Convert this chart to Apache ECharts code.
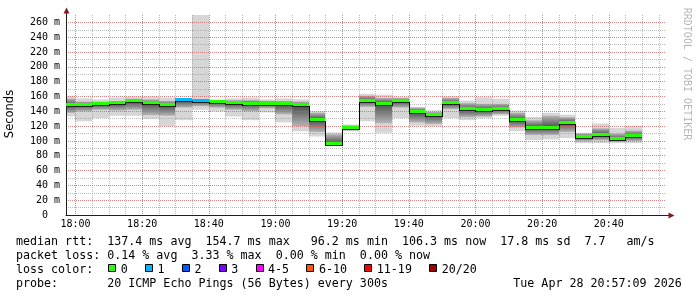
<!DOCTYPE html>
<html><head><meta charset="utf-8">
<script src="https://cdn.jsdelivr.net/npm/echarts@6/dist/echarts.min.js"></script>
<style>html,body{margin:0;padding:0;background:#fff}#c{width:697px;height:297px}</style>
</head><body><div id="c"></div>
<script>
// ---- data ----
const rangeStart = '17:57:09';
const rangeEnd = '20:57:09';
const stepMinutes = 5;
const stepEnd = ['18:00','18:05','18:10','18:15','18:20','18:25','18:30','18:35','18:40','18:45',
  '18:50','18:55','19:00','19:05','19:10','19:15','19:20','19:25','19:30','19:35',
  '19:40','19:45','19:50','19:55','20:00','20:05','20:10','20:15','20:20','20:25',
  '20:30','20:35','20:40','20:45','20:50'];
const median = [148,149,150,151,153.5,151,148.5,154.7,154.5,152,
  151,150.5,150.5,149.5,148,128.5,96.2,118,154.2,150.5,
  153.8,138.5,134.5,151,142.5,141.5,143,128,118,118,
  124.5,105.5,108.5,102,106.3];
const pingMin = [133,126.5,131,134,134,130,120,128,142,140,
  133,128,138.5,125,113,106,95,113,126.5,111,
  131,120.5,120,131,128,131,134,113,101,102,
  104,97,97,97,97];
const pingLowDense = [138,140,142,141,142,135,134,145,147,145,
  142,140,144,136,120,112,98,114,146,124,
  145,125,123,143,132,133,136,118,108,108,
  112,100,101,99,100];
const pingHighDense = [157,153,153,154,157,156,154,156,156,155,
  155,155,154,154,153,138,109,121,161,158,
  158,145,139,158,151,150,150,138,128,134,
  132,110,117,110,114];
const pingMax = [161,157.5,156,158.5,160,160,158.5,157.5,272,156,
  157.5,158.5,156,157.5,156,140,111.5,122,163.5,162.5,
  159,146,141.5,160,154.5,159,157,141,132.5,138,
  135.5,111,123.5,117.5,120.5];
const lostPings = [0,0,0,0,0,0,0,1,1,0,
  0,0,0,0,0,0,0,0,0,0,
  0,0,0,0,0,0,0,0,0,0,
  0,0,0,0,0];
const lossLabels = ['0','1','2','3','4-5','6-10','11-19','20/20'];
const lossUpper = [0,1,2,3,5,10,19,20];
const lossColors = ['#26ff00','#00b8ff','#0059ff','#7e00ff','#ff00ff','#ff5500','#ff0000','#a10000'];
const rttLine = ['137.4 ms avg','154.7 ms max',' 96.2 ms min','106.3 ms now','17.8 ms sd','7.7   am/s'];
const lossLine = ['0.14 % avg','3.33 % max','0.00 % min','0.00 % now'];
const probeText = '20 ICMP Echo Pings (56 Bytes) every 300s';
const stampText = 'Tue Apr 28 20:57:09 2026';
const yMax = 270;
// ---------------------------------------

const toMin = s => { const p = s.split(':').map(Number); return p[0]*60 + p[1] + (p[2]||0)/60; };
const xMin = toMin(rangeStart), xMax = toMin(rangeEnd);
const pad2 = n => String(n).padStart(2,'0');
const fmtTime = v => { const m = Math.round(v); return pad2(Math.floor(m/60)) + ':' + pad2(m%60); };
const lossColorFor = n => { for (let k=0;k<lossUpper.length;k++) if (n <= lossUpper[k]) return lossColors[k]; return lossColors[lossColors.length-1]; };

const rows = stepEnd.map((t,i) => [toMin(t), pingMin[i], pingLowDense[i], median[i], pingHighDense[i], pingMax[i], lostPings[i]]);

const MONO = 'DejaVu Sans Mono';
const majorGrid = {color:'rgba(222,79,79,0.5)', width:1, type:[1,1], dashOffset:0};
const minorGrid = {color:'rgba(143,143,143,0.6)', width:1, type:[1,1], dashOffset:0};
const axisColor = '#1f1f1f';
const arrowColor = '#801f1f';

function clip(shape, cs) {
  return echarts.graphic.clipRectByRect(shape, {x:cs.x, y:cs.y, width:cs.width, height:cs.height});
}

function smokeItem(params, api) {
  const cs = params.coordSys;
  const t1 = api.value(0), t0 = t1 - stepMinutes;
  const x0 = Math.round(api.coord([t0, 0])[0]);
  const x1 = Math.round(api.coord([t1, 0])[0]);
  const yOf = v => api.coord([t1, v])[1];
  const lo = api.value(1), q1 = api.value(2), med = api.value(3), q3 = api.value(4), hi = api.value(5);
  const band = (a, b, fill) => {
    const yt = yOf(b), yb = yOf(a);
    const s = clip({x:x0, y:yt, width:x1-x0, height:yb-yt}, cs);
    return s ? {type:'rect', shape:s, style:{fill:fill}} : null;
  };
  const dark = '#4c4c4c', light = '#b4b4b4';
  const kids = [
    band(lo, hi, '#d6d6d6'),
    band(q1, med, new echarts.graphic.LinearGradient(0,0,0,1,[{offset:0,color:dark},{offset:1,color:light}])),
    band(med, q3, new echarts.graphic.LinearGradient(0,0,0,1,[{offset:0,color:light},{offset:1,color:dark}]))
  ].filter(Boolean);
  return {type:'group', children:kids};
}

function medianItem(params, api) {
  const cs = params.coordSys;
  const i = params.dataIndex;
  const t1 = api.value(0), t0 = t1 - stepMinutes;
  const x0 = Math.round(api.coord([t0, 0])[0]);
  const x1 = Math.round(api.coord([t1, 0])[0]);
  const yOf = v => Math.round(api.coord([t1, v])[1]);
  const y = yOf(api.value(3));
  const kids = [];
  const b = clip({x:x0, y:y+1, width:x1-x0, height:1}, cs);
  if (b) kids.push({type:'rect', shape:b, style:{fill:'#222'}});
  const g = clip({x:x0, y:y-2, width:x1-x0, height:3}, cs);
  if (g) kids.push({type:'rect', shape:g, style:{fill:lossColorFor(api.value(6))}});
  if (i > 0) {
    const yp = yOf(median[i-1]);
    if (yp !== y) {
      const v = clip({x:x0, y:Math.min(yp, y) + 1, width:1, height:Math.abs(yp - y) + 1}, cs);
      if (v) kids.push({type:'rect', shape:v, style:{fill:'#000'}});
    }
  }
  return {type:'group', children:kids};
}

const charW = 7.02, legendFs = 11.66;
const monoStyle = extra => Object.assign({fontFamily:MONO, fontSize:legendFs, fill:'#000', verticalAlign:'middle', align:'left'}, extra||{});
const rowY = [241.5, 255.6, 269.7, 283.8];
const graphics = [];
graphics.push({type:'text', x:16, y:rowY[0], style:monoStyle({text:'median rtt:  ' + rttLine.slice(0,4).join('  ') + '  ' + rttLine[4] + '  ' + rttLine[5]})});
graphics.push({type:'text', x:16, y:rowY[1], style:monoStyle({text:'packet loss: ' + lossLine.join('  ')})});
graphics.push({type:'text', x:16, y:rowY[2], style:monoStyle({text:'loss color:'})});
let lx = 108.3;
lossLabels.forEach((lab, k) => {
  graphics.push({type:'rect', shape:{x:Math.round(lx)+0.5, y:264.5, width:7, height:7}, style:{fill:lossColors[k], stroke:'#000', lineWidth:1}});
  const tx = lx + 12.5;
  graphics.push({type:'text', x:tx, y:rowY[2], style:monoStyle({text:lab})});
  lx = tx + lab.length*charW + 17.3;
});
graphics.push({type:'text', x:16, y:rowY[3], style:monoStyle({text:'probe:       ' + probeText})});
graphics.push({type:'text', x:513.3, y:rowY[3], style:monoStyle({text:stampText})});
graphics.push({type:'text', x:10, y:114, rotation:Math.PI/2, style:{text:'Seconds', fontFamily:'DejaVu Sans', fontSize:11.5, fill:'#000', align:'center', verticalAlign:'middle'}});
graphics.push({type:'text', x:687, y:74, rotation:-Math.PI/2, style:{text:'RRDTOOL / TOBI OETIKER', fontFamily:MONO, fontSize:10, fill:'rgba(0,0,0,0.3)', align:'center', verticalAlign:'middle'}});
// axis arrows
graphics.push({type:'line', shape:{x1:66.5, y1:15, x2:66.5, y2:11}, style:{stroke:axisColor, lineWidth:1}});
graphics.push({type:'polygon', shape:{points:[[63.5,13.5],[69.5,13.5],[66.5,7.5]]}, style:{fill:arrowColor}});
graphics.push({type:'line', shape:{x1:666, y1:215.5, x2:670, y2:215.5}, style:{stroke:axisColor, lineWidth:1}});
graphics.push({type:'polygon', shape:{points:[[668.5,212.5],[668.5,218.5],[674.5,215.5]]}, style:{fill:arrowColor}});

const chart = echarts.init(document.getElementById('c'), null, {renderer:'canvas', width:697, height:297});
chart.setOption({
  animation:false,
  backgroundColor:'#ffffff',
  grid:{left:66, top:15, width:600, height:200, containLabel:false, outerBoundsMode:'none'},
  xAxis:[
    {type:'value', min:xMin, max:xMax, splitNumber:9, z:4,
     axisLine:{show:true, onZero:false, lineStyle:{color:axisColor, width:1}},
     axisTick:{show:false},
     axisLabel:{formatter:fmtTime, fontFamily:MONO, fontSize:10, color:'#000', margin:4.5, showMinLabel:false, showMaxLabel:false},
     splitLine:{show:true, showMinLine:false, showMaxLine:false, lineStyle:majorGrid}},
    {type:'value', min:xMin, max:xMax, splitNumber:36, z:3,
     axisLine:{show:false}, axisTick:{show:false}, axisLabel:{show:false},
     splitLine:{show:true, showMinLine:false, showMaxLine:false, lineStyle:minorGrid}}
  ],
  yAxis:[
    {type:'value', min:0, max:yMax, interval:20, z:4,
     axisLine:{show:true, onZero:false, lineStyle:{color:axisColor, width:1}},
     axisTick:{show:false},
     axisLabel:{formatter:v => v === 0 ? '0  ' : v + ' m', fontFamily:MONO, fontSize:10, color:'#000', margin:6, showMaxLabel:false},
     splitLine:{show:true, showMinLine:false, showMaxLine:false, lineStyle:majorGrid}},
    {type:'value', min:0, max:yMax, interval:10, z:3,
     axisLine:{show:false}, axisTick:{show:false}, axisLabel:{show:false},
     splitLine:{show:true, showMinLine:false, showMaxLine:false, lineStyle:minorGrid}}
  ],
  series:[
    {type:'custom', name:'smoke', xAxisIndex:0, yAxisIndex:0, z:2, renderItem:smokeItem, data:rows, encode:{x:0, y:[1,5]}},
    {type:'custom', name:'median', xAxisIndex:0, yAxisIndex:0, z:5, renderItem:medianItem, data:rows, encode:{x:0, y:3}}
  ],
  graphic:graphics
});
</script></body></html>
